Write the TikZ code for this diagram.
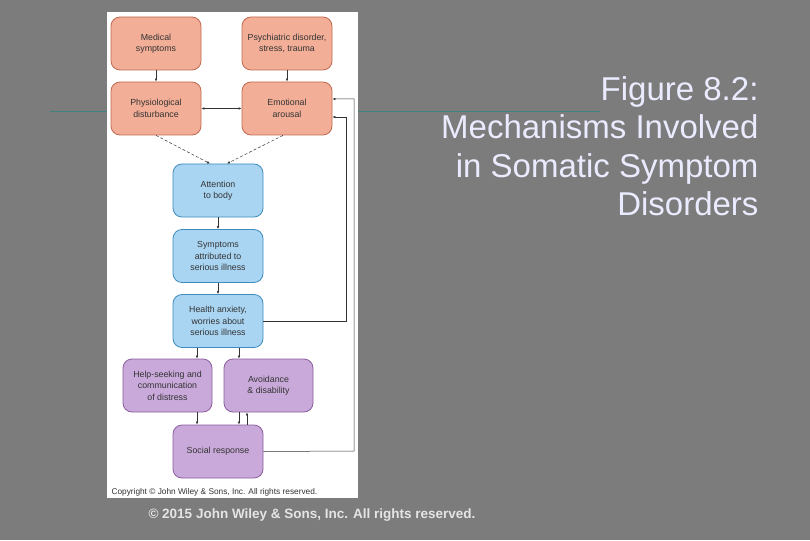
\documentclass[tikz,border=0pt]{standalone}
\usepackage{fontspec}
\setmainfont{Liberation Sans}
\usetikzlibrary{arrows.meta}
\definecolor{bg}{HTML}{7C7C7C}
\definecolor{sal}{HTML}{F2AE97}\definecolor{salD}{HTML}{C06A50}
\definecolor{blu}{HTML}{A9D5F2}\definecolor{bluD}{HTML}{3F8DBF}
\definecolor{pur}{HTML}{C9A9DA}\definecolor{purD}{HTML}{8B5E9F}
\begin{document}
\begin{tikzpicture}[x=1pt,y=-1pt,
 bx/.style={rounded corners=9pt,minimum width=90pt,minimum height=53pt,align=center,font=\fontsize{8.8}{11.5}\selectfont,text=black!80,line width=0.8pt,inner sep=1pt},
 rb/.style={bx,fill=sal,draw=salD},bb/.style={bx,fill=blu,draw=bluD},pb/.style={bx,fill=pur,draw=purD},
 ar/.style={-{Latex[length=3pt,width=2.5pt]},black!80,line width=0.5pt},
 da/.style={ar,densely dashed}]
\fill[bg] (0,0) rectangle (810,540);
\useasboundingbox (0,0) rectangle (810,540);
\draw[color=teal!50!gray,line width=0.8pt] (50,111) -- (600,111);
\fill[white] (107,12) rectangle (358,498);
\node[rb] (med) at (156,43.5) {Medical\\symptoms};
\node[rb] (psy) at (287,43.5) {Psychiatric disorder,\\stress, trauma};
\node[rb] (phy) at (156,108.5) {Physiological\\disturbance};
\node[rb] (emo) at (287,108.5) {Emotional\\arousal};
\node[bb] (att) at (218,190.5) {Attention\\to body};
\node[bb] (sym) at (218,256) {Symptoms\\attributed to\\serious illness};
\node[bb] (hea) at (218,321) {Health anxiety,\\worries about\\serious illness};
\node[pb,minimum width=89pt] (hel) at (167.5,385.5) {Help-seeking and\\communication\\of distress};
\node[pb,minimum width=89pt] (avo) at (268.5,385.5) {Avoidance\\\& disability};
\node[pb] (soc) at (218,451.5) {Social response};
\draw[ar] (med) -- (phy);
\draw[ar] (psy) -- (emo);
\draw[ar,<->,>={Latex[length=3pt,width=2.5pt]}] (phy) -- (emo);
\draw[da] (phy.south) -- ([xshift=-8pt]att.north);
\draw[da] ([xshift=-4pt]emo.south) -- ([xshift=9pt]att.north);
\draw[ar] (att) -- (sym);
\draw[ar] (sym) -- (hea);
\draw[ar] ([xshift=-21pt]hea.south) -- ([xshift=-21pt]hea.south |- hel.north);
\draw[ar] ([xshift=21pt]hea.south) -- ([xshift=21pt]hea.south |- avo.north);
\draw[ar] ([xshift=-21pt]soc.north |- hel.south) -- ([xshift=-21pt]soc.north);
\draw[ar] ([xshift=21pt]soc.north |- avo.south) -- ([xshift=21pt]soc.north);
\draw[ar] ([xshift=29pt]soc.north) -- ([xshift=29pt]soc.north |- avo.south);
\coordinate (c1) at (346,321); \coordinate (c2) at (354,451);
\draw[ar] (hea.east) -- (c1) |- ([yshift=-8.5pt]emo.east);
\draw[ar] (soc.east) -- (c2) |- ([yshift=9.5pt]emo.east);
\node[anchor=west,font=\fontsize{8.3}{9}\selectfont,text=black!80] (cp) at (108,492) {Copyright © John Wiley \& Sons, Inc. All rights reserved.};
\node[anchor=north east,align=right,text=white!92!blue,font=\fontsize{33}{38.5}\selectfont] (ti) at (762,73) {Figure 8.2:\\Mechanisms Involved\\in Somatic Symptom\\Disorders};
\node[font=\bfseries\fontsize{13.5}{15}\selectfont,text=white!80!gray] (ft) at (312,515) {© 2015 John Wiley \& Sons, Inc. All rights reserved.};
\end{tikzpicture}
\end{document}
